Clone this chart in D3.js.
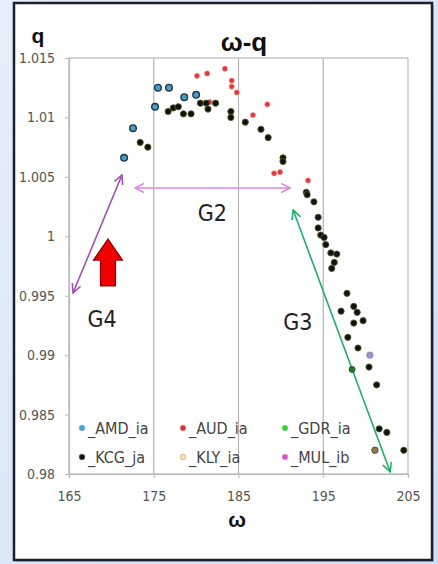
<!DOCTYPE html>
<html>
<head>
<meta charset="utf-8">
<script src="https://cdn.jsdelivr.net/npm/d3@7"></script>
<style>
  body { margin: 0; background: #dbe7f6; }
  svg { display: block; }
  .tick text { font-family: "Liberation Sans Narrow", "DejaVu Sans Condensed", "Arial Narrow", sans-serif; fill: #555; }
</style>
</head>
<body>
<div id="chart"></div>
<script>
// ---- data ----
var xTicks = [165, 175, 185, 195, 205];
var yTicks = [0.98, 0.985, 0.99, 0.995, 1, 1.005, 1.01, 1.015];

var amdOmega = [171.5, 172.55, 175.15, 175.5, 176.8, 178.6, 180.0];
var amdQ     = [1.0066, 1.0091, 1.0109, 1.0125, 1.0125, 1.0117, 1.0119];

var audOmega = [180.1, 181.3, 183.4, 184.2, 184.2, 184.8, 181.6, 188.4, 186.7, 189.2, 189.9, 193.2];
var audQ     = [1.0135, 1.0137, 1.0141, 1.0131, 1.0126, 1.0121, 1.0113, 1.0111, 1.0102, 1.0053, 1.0054, 1.0047];

var kcgOmega = [173.4, 174.3, 176.7, 177.3, 177.9, 178.5, 179.4, 180.5, 181.2, 181.4, 182.3, 184.1, 184.1,
  185.8, 187.65, 188.5, 190.25, 190.25, 193.0, 193.1, 193.9, 194.4, 194.4, 194.7, 195.1, 195.3, 195.9,
  196.6, 196.3, 196.0, 197.8, 197.1, 198.6, 199.0, 199.7, 198.6, 197.9, 199.1, 200.4, 201.3, 201.6,
  202.5, 204.5];
var kcgQ     = [1.0079, 1.0075, 1.0105, 1.0108, 1.0109, 1.0103, 1.0103, 1.0112, 1.0112, 1.0107, 1.0112,
  1.0105, 1.0100, 1.0096, 1.0090, 1.0083, 1.0066, 1.0063, 1.0037, 1.0035, 1.0029, 1.0016, 1.0007, 1.0001,
  0.9999, 0.9993, 0.9986, 0.9985, 0.9978, 0.9973, 0.9952, 0.9937, 0.9941, 0.9936, 0.9929, 0.9927,
  0.9915, 0.9906, 0.9890, 0.9875, 0.9838, 0.9835, 0.9820];

var gdrOmega = [198.4];
var gdrQ     = [0.9888];

var klyOmega = [201.1];
var klyQ     = [0.9820];

var mulOmega = [200.5];
var mulQ     = [0.9900];

var seriesNames = ['_AMD_ia', '_AUD_ia', '_GDR_ia', '_KCG_ja', '_KLY_ia', '_MUL_ib'];

// annotation arrows, in data units [omega0, q0, omega1, q1]
var arrowG4 = [165.47, 0.99523, 171.25, 1.00516];
var arrowG2 = [172.8, 1.00406, 191.1, 1.00406];
var arrowG3 = [191.45, 1.00221, 202.9, 0.98017];
var labelNames = ['G4', 'G2', 'G3'];
var labelOmega = [168.9, 181.9, 192.0];
var labelQ = [0.9930, 1.0020, 0.99279];
// red block arrow: centre omega, tip q, head base q, tail q
var redArrow = [169.6, 0.99977, 0.99800, 0.99582];

function renderChart() {
  var attrs = {
    svgWidth: 438,
    svgHeight: 564,
    marginTop: 58,
    marginLeft: 69,
    plotWidth: 339,
    plotHeight: 416,
    narrowFont: '"Liberation Sans Narrow", "DejaVu Sans Condensed", "Arial Narrow", sans-serif'
  };

  var series = [
    { xs: amdOmega, ys: amdQ, r: 3.3, fill: '#4b9cc6', stroke: '#1c3644', sw: 1.4, legendFill: '#48a8d4', legendStroke: '#7ac' },
    { xs: audOmega, ys: audQ, r: 2.6, fill: '#e03a3a', stroke: '#f09090', sw: 0.6, legendFill: '#e02828', legendStroke: '#f08080' },
    { xs: gdrOmega, ys: gdrQ, r: 3, fill: '#237a2a', stroke: '#184a18', sw: 0.8, legendFill: '#3ccc3c', legendStroke: '#6d6' },
    { xs: kcgOmega, ys: kcgQ, r: 3.1, fill: '#111', stroke: '#4a5a22', sw: 0.9, legendFill: '#111', legendStroke: '#555' },
    { xs: klyOmega, ys: klyQ, r: 3.2, fill: '#8b7d55', stroke: '#5e5030', sw: 1, legendFill: '#f0e4b8', legendStroke: '#d8b060' },
    { xs: mulOmega, ys: mulQ, r: 3.2, fill: '#9d96cc', stroke: '#8080b0', sw: 0.8, legendFill: '#d84cd8', legendStroke: '#e8a' }
  ];
  series.forEach(function (s, i) { s.name = seriesNames[i]; });

  // ############ scales ############
  var scales = {};
  scales.x = d3.scaleLinear().domain([165, 205]).range([0, attrs.plotWidth]);
  scales.y = d3.scaleLinear().domain([0.98, 1.015]).range([attrs.plotHeight, 0]);

  var svg = d3.select('#chart').append('svg')
    .attr('width', attrs.svgWidth)
    .attr('height', attrs.svgHeight);

  var defs = svg.append('defs');
  var grad = defs.append('linearGradient').attr('id', 'bg').attr('x1', 0).attr('y1', 0).attr('x2', 1).attr('y2', 1);
  grad.append('stop').attr('offset', '0%').attr('stop-color', '#e6effa');
  grad.append('stop').attr('offset', '100%').attr('stop-color', '#cddff3');

  function marker(id, color) {
    defs.append('marker')
      .attr('id', id).attr('viewBox', '0 0 10 10').attr('refX', 9).attr('refY', 5)
      .attr('markerWidth', 7).attr('markerHeight', 7).attr('orient', 'auto-start-reverse')
      .append('path').attr('d', 'M1,1 L9,5 L1,9').attr('fill', 'none')
      .attr('stroke', color).attr('stroke-width', 1.4);
  }
  marker('headG4', '#a050b4');
  marker('headG2', '#dc8ade');
  marker('headG3', '#1fae6c');

  svg.append('rect').attr('width', attrs.svgWidth).attr('height', attrs.svgHeight).attr('fill', 'url(#bg)');

  // frame
  svg.append('rect').attr('x', 16).attr('y', 5).attr('width', 418).attr('height', 557)
    .attr('fill', '#8c9aae').attr('opacity', 0.5);
  svg.append('rect').attr('x', 14).attr('y', 3).attr('width', 418).attr('height', 557)
    .attr('fill', '#fff').attr('stroke', '#1c1e2c').attr('stroke-width', 2.5);

  var chart = svg.append('g')
    .attr('transform', 'translate(' + attrs.marginLeft + ',' + attrs.marginTop + ')');

  // gridlines
  chart.selectAll('.grid').data(xTicks.slice(1, -1)).enter().append('line')
    .attr('class', 'grid')
    .attr('x1', function (d) { return scales.x(d); }).attr('x2', function (d) { return scales.x(d); })
    .attr('y1', 0).attr('y2', attrs.plotHeight)
    .attr('stroke', '#b4b4b4').attr('stroke-width', 1.2);

  chart.append('rect').attr('width', attrs.plotWidth).attr('height', attrs.plotHeight)
    .attr('fill', 'none').attr('stroke', '#b8b8b8').attr('stroke-width', 1.2);

  // axes
  var axisBottom = d3.axisBottom(scales.x).tickValues(xTicks).tickSize(4).tickPadding(13)
    .tickFormat(d3.format('d'));
  var axisLeft = d3.axisLeft(scales.y).tickValues(yTicks).tickSize(4).tickPadding(10)
    .tickFormat(function (d) { return +d.toFixed(3) + ''; });

  var gx = chart.append('g').attr('transform', 'translate(0,' + attrs.plotHeight + ')').call(axisBottom);
  var gy = chart.append('g').call(axisLeft);
  [gx, gy].forEach(function (g) {
    g.select('.domain').attr('stroke', '#b8b8b8').attr('stroke-width', 1.2);
    g.selectAll('.tick line').attr('stroke', '#b8b8b8');
    g.selectAll('.tick text').attr('font-size', 14);
  });

  // arrows
  function arrow(a, id, color) {
    chart.append('line')
      .attr('x1', scales.x(a[0])).attr('y1', scales.y(a[1]))
      .attr('x2', scales.x(a[2])).attr('y2', scales.y(a[3]))
      .attr('stroke', color).attr('stroke-width', 1.6)
      .attr('marker-start', 'url(#' + id + ')').attr('marker-end', 'url(#' + id + ')');
  }
  arrow(arrowG4, 'headG4', '#a050b4');
  arrow(arrowG2, 'headG2', '#dc8ade');
  arrow(arrowG3, 'headG3', '#1fae6c');

  // red block arrow
  var cx = scales.x(redArrow[0]);
  var tipY = scales.y(redArrow[1]), baseY = scales.y(redArrow[2]), tailY = scales.y(redArrow[3]);
  chart.append('path')
    .attr('d', 'M' + cx + ',' + tipY + ' L' + (cx + 14.5) + ',' + baseY + ' L' + (cx + 7.5) + ',' + baseY +
      ' L' + (cx + 7.5) + ',' + tailY + ' L' + (cx - 7.5) + ',' + tailY + ' L' + (cx - 7.5) + ',' + baseY +
      ' L' + (cx - 14.5) + ',' + baseY + ' Z')
    .attr('fill', '#f00000').attr('stroke', '#8a0000').attr('stroke-width', 1.2);

  // group labels
  chart.selectAll('.glabel').data(labelNames).enter().append('text')
    .attr('class', 'glabel')
    .attr('x', function (d, i) { return scales.x(labelOmega[i]); })
    .attr('y', function (d, i) { return scales.y(labelQ[i]); })
    .attr('text-anchor', 'middle').attr('dominant-baseline', 'central')
    .attr('font-family', attrs.narrowFont)
    .attr('font-size', 23).attr('fill', '#222')
    .text(function (d) { return d; });

  // points
  series.forEach(function (s) {
    chart.append('g').selectAll('circle')
      .data(s.xs.map(function (x, i) { return [x, s.ys[i]]; }))
      .enter().append('circle')
      .attr('cx', function (d) { return scales.x(d[0]); })
      .attr('cy', function (d) { return scales.y(d[1]); })
      .attr('r', s.r)
      .attr('fill', s.fill).attr('stroke', s.stroke).attr('stroke-width', s.sw);
  });

  // legend (two rows of three)
  var legend = svg.append('g');
  series.forEach(function (s, i) {
    var col = i % 3, row = Math.floor(i / 3);
    var lx = [82, 183, 285][col], ly = [428, 457][row];
    legend.append('circle').attr('cx', lx).attr('cy', ly).attr('r', 2.8)
      .attr('fill', s.legendFill).attr('stroke', s.legendStroke).attr('stroke-width', 0.8);
    legend.append('text').attr('x', lx + 6).attr('y', ly).attr('dominant-baseline', 'central')
      .attr('font-family', attrs.narrowFont)
      .attr('font-size', 16).attr('fill', '#444').text(s.name);
  });

  // titles
  svg.append('text').attr('x', 244).attr('y', 51).attr('text-anchor', 'middle')
    .attr('font-family', '"Liberation Sans", Arial, sans-serif').attr('font-weight', 'bold')
    .attr('font-size', 26).attr('fill', '#111').text('ω-q');
  svg.append('text').attr('x', 38).attr('y', 43).attr('text-anchor', 'middle')
    .attr('font-family', '"Liberation Sans", Arial, sans-serif').attr('font-weight', 'bold')
    .attr('font-size', 21).attr('fill', '#111').text('q');
  svg.append('text').attr('x', 237).attr('y', 527).attr('text-anchor', 'middle')
    .attr('font-family', '"Liberation Sans", Arial, sans-serif').attr('font-weight', 'bold')
    .attr('font-size', 21).attr('fill', '#111').text('ω');
}

renderChart();
</script>
</body>
</html>
